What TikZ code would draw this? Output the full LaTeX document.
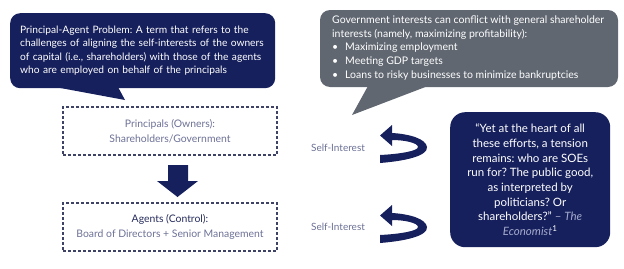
\documentclass[tikz,border=0pt]{standalone}
\usepackage{fontspec}
\setmainfont{Lato}
\frenchspacing
\definecolor{navy}{RGB}{22,32,92}
\definecolor{slate}{RGB}{96,103,113}
\definecolor{softblue}{RGB}{108,113,150}
\definecolor{darkblue}{RGB}{38,44,92}
\definecolor{dashcol}{RGB}{62,66,100}
\definecolor{lavender}{RGB}{165,170,205}
\tikzset{
  callout/.style={fill=#1, rounded corners=10pt, text=white, align=left, anchor=north west, inner ysep=0pt},
  dashbox/.style={draw=dashcol, line width=1.1pt, dash pattern=on 3pt off 2pt, minimum width=214pt, minimum height=48pt, align=center, inner sep=0pt},
  boxtext/.style={font=\fontsize{10.4}{14.5}\selectfont, text=softblue},
  selflabel/.style={font=\fontsize{10}{12}\selectfont, text=softblue},
}
\begin{document}
\begin{tikzpicture}[x=1pt,y=-1pt]
\useasboundingbox (0,0) rectangle (624,268);
% left callout
\node[callout=navy, minimum width=263pt, minimum height=75pt, text width=245pt, inner xsep=10pt,
      font=\fontsize{10.2}{13.6}\selectfont] (callL) at (10,13)
  {Principal-Agent Problem: A term that refers to the\\
   challenges of aligning the self-interests of the owners\\
   of capital (i.e., shareholders) with those of the agents\\
   who are employed on behalf of the principals};
\fill[navy] (55,87) -- (125,100) -- (118,87) -- cycle;
% right callout
\fill[slate, rounded corners=10pt] (320,10) rectangle (618,87);
\fill[slate] (368,86) -- (352,115) -- (428,86) -- cycle;
\node[text=white, align=left, anchor=west, inner sep=0pt,
      font=\fontsize{10.5}{13.8}\selectfont] (callR) at (332,48)
  {Government interests can conflict with general shareholder\\
   interests (namely, maximizing profitability):\\
   \makebox[13pt][l]{•}Maximizing employment\\
   \makebox[13pt][l]{•}Meeting GDP targets\\
   \makebox[13pt][l]{•}Loans to risky businesses to minimize bankruptcies};
% boxes
\node[dashbox, boxtext] (princ) at (170,131) {Principals (Owners):\\Shareholders/Government};
\node[dashbox, boxtext] (agent) at (170,227) {\textcolor{darkblue}{Agents (Control):}\\Board of Directors + Senior Management};
% down arrow
\fill[navy] (168,165) -- (188,165) -- (188,181) -- (198,181) -- (177.5,197) -- (157,181) -- (168,181) -- cycle;
% self interest labels
\node[selflabel] (si1) at (338,148) {Self-Interest};
\node[selflabel] (si2) at (338,227) {Self-Interest};
% curved arrows
\foreach \dy in {0,80}{
\begin{scope}[yshift=-\dy pt]
\fill[navy] (380,163) .. controls (405,161) and (428,156) .. (427,147)
  .. controls (426,139) and (410,134) .. (392,133)
  -- (392,125) -- (380,135.5) -- (392,146) -- (392,140)
  .. controls (405,140) and (418,143) .. (418,147)
  .. controls (418,151) and (400,154) .. (380,155) -- cycle;
\end{scope}}
% quote box
\node[fill=navy, rounded corners=15pt, minimum width=160pt, minimum height=135pt, anchor=north west,
      text=white, align=center, inner sep=0pt, font=\fontsize{11.5}{14.7}\selectfont] (quote) at (450,112)
  {“Yet at the heart of all\\
   these efforts, a tension\\
   remains: who are SOEs\\
   run for? The public good,\\
   as interpreted by\\
   politicians? Or\\
   shareholders?” \textcolor{lavender}{– \textit{The}}\\
   \textcolor{lavender}{\textit{Economist}}\textsuperscript{1}};
\end{tikzpicture}
\end{document}
